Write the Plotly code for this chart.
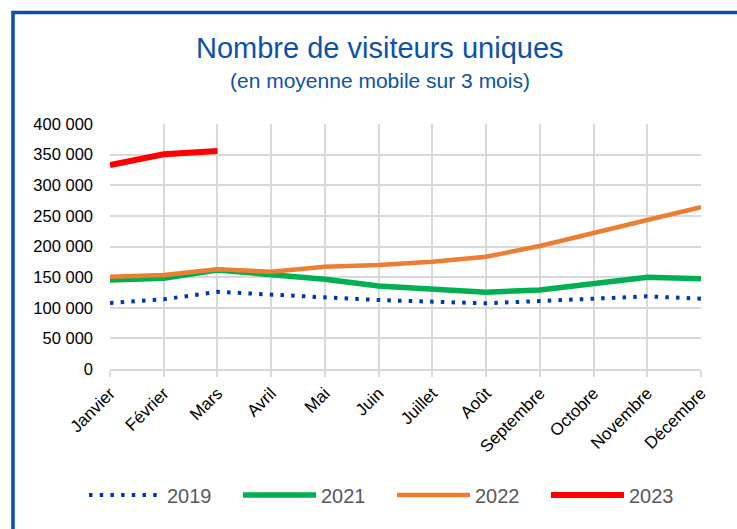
import plotly.graph_objects as go

mois = ["Janvier", "Février", "Mars", "Avril", "Mai", "Juin", "Juillet",
        "Août", "Septembre", "Octobre", "Novembre", "Décembre"]

v2019 = [107800, 113800, 126000, 120800, 117000, 112600, 109900,
         107200, 111000, 114800, 118600, 114800]
v2021 = [145300, 148000, 161600, 153500, 146400, 135500, 130600,
         125200, 129000, 140000, 149700, 147500]
v2022 = [150700, 153500, 162800, 158900, 167000, 169800, 175200,
         183400, 200800, 222600, 243300, 264000]
v2023 = [333000, 350500, 356000]

W, H = 737, 529
L, R, T, B = 110, 36, 124, 160
pw, ph = W - L - R, H - T - B


def px_x(p):
    return (p - L) / pw


def px_y(p):
    return (H - B - p) / ph


BLUE = "#0B52A8"

fig = go.Figure()
fig.add_trace(go.Scatter(x=mois, y=v2019, name="2019", mode="lines",
                         line=dict(color="#0038A8", width=4, dash="3.5px,7.2px")))
fig.add_trace(go.Scatter(x=mois, y=v2021, name="2021", mode="lines",
                         line=dict(color="#00B050", width=5.5)))
fig.add_trace(go.Scatter(x=mois, y=v2022, name="2022", mode="lines",
                         line=dict(color="#ED7D31", width=4.5)))
fig.add_trace(go.Scatter(x=mois[:len(v2023)], y=v2023, name="2023", mode="lines",
                         line=dict(color="#FF0000", width=6)))

fig.update_xaxes(
    type="category", range=[0, len(mois) - 1],
    showgrid=True, gridcolor="#D9D9D9", gridwidth=1.5,
    ticks="outside", ticklen=6, tickcolor="#D9D9D9", tickwidth=1.5,
    tickangle=-45, tickfont=dict(family="Liberation Sans", size=17, color="#000000"),
    showline=True, linecolor="#D9D9D9", linewidth=1.5, zeroline=False,
)
fig.update_yaxes(
    range=[0, 400000], dtick=50000, tickformat=",d",
    showgrid=True, gridcolor="#D9D9D9", gridwidth=1.5, zeroline=False,
    tickfont=dict(family="Liberation Sans", size=16.5, color="#000000"),
    ticklabelstandoff=16,
)

fig.add_shape(type="rect", xref="paper", yref="paper",
              x0=px_x(13), x1=px_x(765), y0=px_y(560), y1=px_y(12.5),
              line=dict(color=BLUE, width=3.5), layer="above")

fig.add_annotation(text="Nombre de visiteurs uniques", xref="paper", yref="paper",
                   x=px_x(379.5), y=px_y(48), xanchor="center", yanchor="middle",
                   showarrow=False, font=dict(family="Liberation Sans", size=29, color=BLUE))
fig.add_annotation(text="(en moyenne mobile sur 3 mois)", xref="paper", yref="paper",
                   x=px_x(379.5), y=px_y(81), xanchor="center", yanchor="middle",
                   showarrow=False, font=dict(family="Liberation Sans", size=21, color=BLUE))

fig.update_layout(
    width=W, height=H,
    margin=dict(l=L, r=R, t=T, b=B),
    paper_bgcolor="white", plot_bgcolor="white",
    separators=", ",
    showlegend=True,
    legend=dict(orientation="h", x=px_x(84), y=px_y(495), xanchor="left", yanchor="middle",
                font=dict(family="Liberation Sans", size=20, color="#595959"),
                entrywidth=66, entrywidthmode="pixels", itemwidth=73),
)

fig.write_html("out.html", config={"displayModeBar": False},
               post_script="document.body.style.margin='0';")
